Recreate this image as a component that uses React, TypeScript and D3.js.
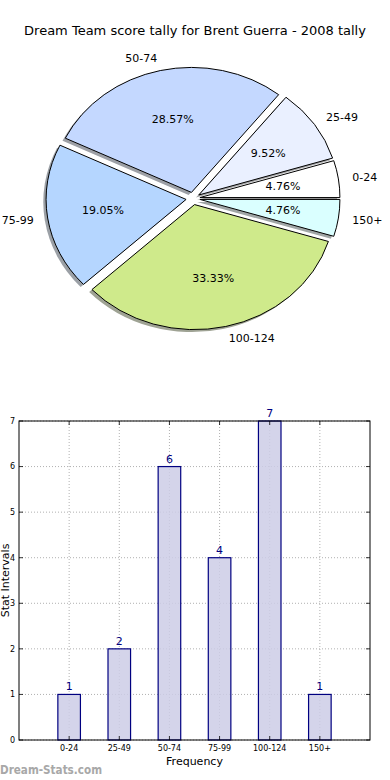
import React, { useEffect, useRef } from 'react'
import * as d3 from 'd3'

// score intervals and how many games fell into each
const intervals = ['0-24', '25-49', '50-74', '75-99', '100-124', '150+']
const counts = [1, 2, 6, 4, 7, 1]
const sliceColors = ['#FFFFFF', '#EAF0FF', '#C4D8FF', '#B5D6FF', '#CFEA8B', '#DAFFFF']
const yTicks = [0, 1, 2, 3, 4, 5, 6, 7]

const title = 'Dream Team score tally for Brent Guerra - 2008 tally'
const font = 'DejaVu Sans, sans-serif'

// pie placement (ellipse, like an un-equalised matplotlib axes)
const pie = { cx: 193, cy: 198.5, rx: 140, ry: 125, explode: 0.05, shadow: 0.02 }
// bar axes box
const box = { left: 19, right: 370, top: 421, bottom: 740 }

const shade = (c: string) => {
    const rgb = d3.rgb(c)
    // matplotlib Shadow: 0.3 * facecolor at alpha 0.5 on white
    const mix = (v: number) => 0.5 * v * 0.3 + 0.5 * 255
    return d3.rgb(mix(rgb.r), mix(rgb.g), mix(rgb.b)).formatHex()
}

const App: React.FC = () => {
    const ref = useRef<any>()
    useEffect(() => {
        const svg = d3.select(ref.current)
        svg.selectAll('*').remove()

        svg.append('text')
            .attr('x', 195)
            .attr('y', 30)
            .attr('dy', '0.35em')
            .attr('text-anchor', 'middle')
            .attr('font-size', 13)
            .attr('font-family', font)
            .text(title)

        // ---------- pie ----------
        const total = d3.sum(counts)
        const ends = d3.cumsum(counts).map((v) => (v / total) * 2 * Math.PI)
        const slices = counts.map((v, i) => {
            const t1 = i === 0 ? 0 : ends[i - 1]
            const t2 = ends[i]
            return { label: intervals[i], value: v, t1, t2, mid: (t1 + t2) / 2, color: sliceColors[i] }
        })
        const arc = d3.arc<any>()
            .innerRadius(0)
            .outerRadius(1)
            .startAngle((d) => Math.PI / 2 - d.t2)
            .endAngle((d) => Math.PI / 2 - d.t1)

        const pieG = svg.append('g')
        const wedge = (d: any, dx: number, dy: number) => {
            const ox = pie.cx + pie.explode * pie.rx * Math.cos(d.mid) + dx
            const oy = pie.cy - pie.explode * pie.ry * Math.sin(d.mid) + dy
            return `translate(${ox},${oy}) scale(${pie.rx},${pie.ry})`
        }
        // shadows first
        pieG.selectAll('path.shadow')
            .data(slices)
            .join('path')
            .attr('class', 'shadow')
            .attr('transform', (d) => wedge(d, -pie.shadow * pie.rx, pie.shadow * pie.ry))
            .attr('d', arc)
            .attr('fill', (d) => shade(d.color))
        pieG.selectAll('path.slice')
            .data(slices)
            .join('path')
            .attr('class', 'slice')
            .attr('transform', (d) => wedge(d, 0, 0))
            .attr('d', arc)
            .attr('fill', (d) => d.color)
            .attr('stroke', '#000')
            .attr('stroke-width', 1)
            .attr('vector-effect', 'non-scaling-stroke')

        const at = (d: any, k: number) => ({
            x: pie.cx + (pie.explode + k) * pie.rx * Math.cos(d.mid),
            y: pie.cy - (pie.explode + k) * pie.ry * Math.sin(d.mid)
        })
        pieG.selectAll('text.lbl')
            .data(slices)
            .join('text')
            .attr('class', 'lbl')
            .attr('x', (d) => at(d, 1.1).x)
            .attr('y', (d) => at(d, 1.1).y)
            .attr('dy', '0.35em')
            .attr('text-anchor', (d) => (Math.cos(d.mid) > 0 ? 'start' : 'end'))
            .attr('font-size', 11)
            .attr('font-family', font)
            .text((d) => d.label)
        pieG.selectAll('text.pct')
            .data(slices)
            .join('text')
            .attr('class', 'pct')
            .attr('x', (d) => at(d, 0.6).x)
            .attr('y', (d) => at(d, 0.6).y)
            .attr('dy', '0.35em')
            .attr('text-anchor', 'middle')
            .attr('font-size', 11)
            .attr('font-family', font)
            .text((d) => `${((d.value / total) * 100).toFixed(2)}%`)

        // ---------- bars ----------
        const x = d3.scaleLinear().domain([-1, 6]).range([box.left, box.right])
        const y = d3.scaleLinear().domain([0, 7]).range([box.bottom, box.top])
        const barW = 0.45
        const barG = svg.append('g')

        const grid = barG.append('g')
            .attr('stroke', '#b0b0b0')
            .attr('stroke-width', 1)
            .attr('stroke-dasharray', '1,2')
        grid.selectAll('line.gy')
            .data(yTicks)
            .join('line')
            .attr('class', 'gy')
            .attr('x1', box.left)
            .attr('x2', box.right)
            .attr('y1', (d) => y(d))
            .attr('y2', (d) => y(d))
        grid.selectAll('line.gx')
            .data(intervals)
            .join('line')
            .attr('class', 'gx')
            .attr('x1', (_, i) => x(i))
            .attr('x2', (_, i) => x(i))
            .attr('y1', box.top)
            .attr('y2', box.bottom)

        barG.selectAll('rect')
            .data(counts)
            .join('rect')
            .attr('x', (_, i) => x(i - barW / 2))
            .attr('width', x(barW) - x(0))
            .attr('y', (d) => y(d))
            .attr('height', (d) => y(0) - y(d))
            .attr('fill', '#CCCCE6')
            .attr('fill-opacity', 0.85)
            .attr('stroke', '#000080')
            .attr('stroke-width', 1.2)

        barG.selectAll('text.val')
            .data(counts)
            .join('text')
            .attr('class', 'val')
            .attr('x', (_, i) => x(i))
            .attr('y', (d) => y(d) - 4)
            .attr('text-anchor', 'middle')
            .attr('font-size', 11)
            .attr('font-family', font)
            .attr('fill', '#000080')
            .text((d) => d)

        barG.append('rect')
            .attr('x', box.left)
            .attr('y', box.top)
            .attr('width', box.right - box.left)
            .attr('height', box.bottom - box.top)
            .attr('fill', 'none')
            .attr('stroke', '#000')
            .attr('stroke-width', 1)

        // tick marks inside the axes
        const ticks = barG.append('g').attr('stroke', '#000').attr('stroke-width', 0.8)
        yTicks.forEach((t) => {
            ticks.append('line').attr('x1', box.left).attr('x2', box.left + 4).attr('y1', y(t)).attr('y2', y(t))
            ticks.append('line').attr('x1', box.right - 4).attr('x2', box.right).attr('y1', y(t)).attr('y2', y(t))
        })
        intervals.forEach((_, i) => {
            ticks.append('line').attr('x1', x(i)).attr('x2', x(i)).attr('y1', box.bottom).attr('y2', box.bottom - 4)
            ticks.append('line').attr('x1', x(i)).attr('x2', x(i)).attr('y1', box.top).attr('y2', box.top + 4)
        })

        barG.selectAll('text.yt')
            .data(yTicks)
            .join('text')
            .attr('class', 'yt')
            .attr('x', box.left - 4)
            .attr('y', (d) => y(d))
            .attr('dy', '0.35em')
            .attr('text-anchor', 'end')
            .attr('font-size', 8)
            .attr('font-family', font)
            .text((d) => d)
        barG.selectAll('text.xt')
            .data(intervals)
            .join('text')
            .attr('class', 'xt')
            .attr('x', (_, i) => x(i))
            .attr('y', box.bottom + 8)
            .attr('dy', '0.35em')
            .attr('text-anchor', 'middle')
            .attr('font-size', 8)
            .attr('font-family', font)
            .text((d) => d)

        barG.append('text')
            .attr('x', (box.left + box.right) / 2)
            .attr('y', 765)
            .attr('text-anchor', 'middle')
            .attr('font-size', 11)
            .attr('font-family', font)
            .text('Frequency')
        barG.append('text')
            .attr('transform', `translate(9,${(box.top + box.bottom) / 2}) rotate(-90)`)
            .attr('text-anchor', 'middle')
            .attr('font-size', 11)
            .attr('font-family', font)
            .text('Stat Intervals')

        svg.append('text')
            .attr('x', 0)
            .attr('y', 774)
            .attr('font-size', 12)
            .attr('font-weight', 'bold')
            .attr('font-family', font)
            .attr('fill', '#a8a8a8')
            .attr('textLength', 102)
            .attr('lengthAdjust', 'spacingAndGlyphs')
            .text('Dream-Stats.com')
    }, [])
    return (
        <svg
            ref={ref}
            width={390}
            height={780}
            viewBox='0 0 390 780'
            style={{ position: 'fixed', left: 0, top: 0, background: '#fff' }}
        ></svg>
    )
}

export default App
